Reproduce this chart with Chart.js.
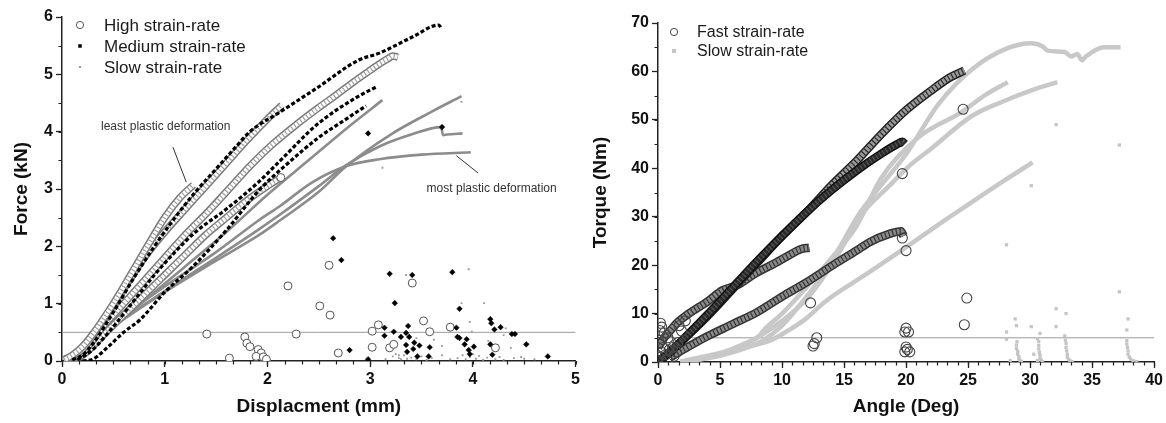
<!DOCTYPE html>
<html>
<head>
<meta charset="utf-8">
<script src="https://cdn.jsdelivr.net/npm/chart.js@4.4.1/dist/chart.umd.min.js"></script>
<style>
  html, body { margin: 0; padding: 0; background: #fff; }
  .wrap { display: flex; width: 1166px; height: 423px; }
  .panel { position: relative; width: 583px; height: 423px; }
</style>
</head>
<body>
<div class="wrap">
  <div class="panel"><canvas id="left"></canvas></div>
  <div class="panel"><canvas id="right"></canvas></div>
</div>
<script>
// ---- left panel: force vs displacement ----
const forceTicksX = [0, 1, 2, 3, 4, 5];
const forceTicksY = [0, 1, 2, 3, 4, 5, 6];
const forceThreshold = [[0, 0.5], [5, 0.5]];

const high1 = [[0.02,0.02],[0.1,0.1],[0.2,0.25],[0.3,0.47],[0.5,1.0],[0.7,1.6],[0.83,2.0],[1.0,2.5],[1.15,2.85],[1.28,3.07]];
const high2 = [[0.02,0.02],[0.1,0.08],[0.2,0.2],[0.4,0.7],[0.6,1.25],[0.8,1.8],[1.0,2.25],[1.2,2.65],[1.4,3.05],[1.6,3.45],[1.8,3.85],[2.0,4.22],[2.14,4.46]];
const high3 = [[0.02,0.02],[0.2,0.15],[0.4,0.6],[0.6,1.0],[0.8,1.4],[1.0,1.8],[1.2,2.2],[1.42,2.6],[1.6,2.95],[1.83,3.4],[2.05,3.78],[2.28,4.12],[2.5,4.42],[2.67,4.64],[2.85,4.88],[2.96,5.02],[3.08,5.17],[3.18,5.28],[3.22,5.32],[3.27,5.3]];
const high4 = [[0.02,0.02],[0.2,0.1],[0.4,0.45],[0.6,0.8],[0.8,1.15],[1.0,1.5],[1.2,1.85],[1.4,2.2],[1.6,2.5],[1.8,2.8],[2.0,3.05],[2.13,3.2]];

const medium1 = [[0.1,0.02],[0.2,0.1],[0.3,0.3],[0.5,0.85],[0.7,1.45],[0.9,2.0],[1.1,2.5],[1.3,2.95],[1.5,3.35],[1.7,3.75],[1.83,4.0],[2.12,4.34],[2.48,4.76],[2.89,5.25],[3.09,5.37],[3.41,5.65],[3.67,5.86],[3.69,5.81]];
const medium2 = [[0.15,0.02],[0.3,0.2],[0.5,0.6],[0.7,1.05],[0.9,1.5],[1.1,1.9],[1.3,2.25],[1.6,2.65],[1.9,3.1],[2.15,3.54],[2.48,4.12],[2.86,4.59],[3.06,4.78]];
const medium3 = [[0.2,0],[0.3,0.03],[0.45,0.25],[0.6,0.5],[0.76,0.72],[1.0,1.2],[1.27,1.64],[1.6,2.28],[1.92,2.98],[2.2,3.45],[2.5,3.9],[2.75,4.2],[2.96,4.45]];

const slow1 = [[0.05,0],[0.4,0.45],[0.8,1.05],[1.2,1.65],[1.6,2.25],[2.0,2.9],[2.4,3.5],[2.8,4.1],[3.12,4.55]];
const slow2 = [[0.05,0],[0.5,0.6],[1.0,1.2],[1.5,1.75],[1.92,2.2],[2.12,2.45],[2.5,2.95],[2.77,3.4],[3.2,3.95],[3.6,4.35],[3.89,4.62]];
const slow3 = [[0.05,0],[0.5,0.62],[1.0,1.22],[1.5,1.8],[1.92,2.3],[2.12,2.55],[2.5,3.05],[2.77,3.42],[3.1,3.75],[3.4,3.95],[3.69,4.08],[3.71,3.94],[3.75,3.95],[3.9,3.97]];
const slow4 = [[0.05,0],[0.5,0.65],[1.0,1.3],[1.5,1.9],[1.92,2.46],[2.12,2.7],[2.44,3.12],[2.77,3.4],[3.09,3.52],[3.5,3.6],[3.98,3.64]];

const highScatter = [[1.41,0.47],[1.63,0.05],[1.78,0.42],[1.8,0.31],[1.83,0.25],[1.91,0.2],[1.94,0.14],[1.89,0.08],[1.96,0.07],[1.99,0.03],[2.2,1.31],[2.28,0.47],[2.51,0.96],[2.6,1.67],[2.61,0.8],[2.69,0.14],[3.02,0.52],[3.08,0.63],[3.02,0.24],[3.19,0.23],[3.23,0.29],[3.41,1.36],[3.52,0.7],[3.58,0.51],[3.78,0.59],[4.22,0.23],[2.13,3.2]];
const mediumScatter = [[2.64,2.14],[2.72,1.76],[2.8,0.19],[2.98,0.03],[3.19,1.52],[3.24,1.01],[3.41,1.5],[3.14,0.58],[3.14,0.44],[3.23,0.51],[3.3,0.42],[3.35,0.49],[3.37,0.61],[3.38,0.42],[3.35,0.28],[3.36,0.16],[3.42,0.21],[3.43,0.32],[3.46,0.08],[3.48,0.27],[3.58,0.24],[3.57,0.08],[3.8,1.55],[3.87,0.91],[3.84,0.58],[3.85,0.42],[3.87,0.4],[3.94,0.38],[3.92,0.29],[3.96,0.19],[3.97,0.12],[4.01,0.25],[4.17,0.73],[4.18,0.66],[4.21,0.55],[4.27,0.59],[4.17,0.29],[4.19,0.11],[4.38,0.47],[4.41,0.47],[4.52,0.29],[4.73,0.08],[2.98,3.97],[3.7,4.08]];
const slowScatter = [[3.35,1.5],[3.96,1.6],[4.11,1.01],[3.89,1.01],[3.97,0.68],[3.99,0.51],[3.7,0.26],[3.62,0.37],[4.32,0.57],[4.37,0.23],[4.47,0.07],[4.54,0.3],[3.89,4.52],[3.12,3.37],[4.3,0.45],[4.15,0.35],[3.45,0.4],[3.28,0.1],[3.22,0.08],[3.25,0.12],[3.28,0.05],[3.3,0.03],[3.33,0.1],[3.36,0.04],[3.4,0.06],[3.45,0.03],[3.5,0.08],[3.55,0.02],[3.85,0.05],[3.9,0.1],[3.93,0.03],[3.97,0.07],[4.0,0.12],[4.03,0.04],[4.06,0.09],[4.1,0.02],[4.14,0.06],[4.18,0.1],[4.22,0.03],[4.26,0.07],[4.3,0.02],[4.4,0.05],[4.5,0.04],[4.6,0.03],[3.15,0.03],[3.6,0.05],[3.7,0.1],[3.78,0.03]];

// ---- right panel: torque vs angle ----
const torqueTicksX = [0, 5, 10, 15, 20, 25, 30, 35, 40];
const torqueTicksY = [0, 10, 20, 30, 40, 50, 60, 70];
const torqueThreshold = [[0, 5], [40, 5]];

const fast1 = [[0,0],[1,2.2],[2,4.6],[4,9.8],[6,15.3],[8,20.8],[10,26],[12,31],[14,35.5],[16,39.5],[18,43],[19.3,45],[19.7,45.5],[19.9,45]];
const fast2 = [[0,0],[1,2],[2,4.5],[4,9.5],[6,15],[8,20.5],[10,26],[12,31],[14,36.5],[16,41.5],[18,47],[20,52],[22,56],[23.5,58.7],[24.7,60.2]];
const fast3 = [[0,3],[0.5,5],[1,6.5],[1.5,8],[2.5,10],[4,12.5],[5.2,14.8],[6.5,16],[7.8,18.2],[9.5,20.5],[10.4,21.8],[11.5,23.3],[12.2,23.6]];
const fast4 = [[1,1],[2,2.5],[3.9,5.2],[6,7.8],[8,10.3],[10,13.5],[12,16.5],[14.4,20.5],[16,23],[17.1,24.8],[18.6,26.4],[19.6,27],[19.8,26]];

const slowT1 = [[1.8,0],[3,0.4],[5,1.3],[7,2.8],[8.5,4.5],[10,7.5],[11.5,12],[13,17],[14.5,23],[16.2,30.5],[18,36.5],[20,42.9],[22.6,53.2],[25.3,60.4],[28,64.6],[30.1,65.8],[31,65.2],[31.4,64.3],[32.8,64],[33.3,63.1],[33.8,63.6],[34.2,62.3],[34.5,63.1],[36,65],[37.3,65]];
const slowT2 = [[1.8,0],[3,0.5],[5,1.8],[7,3.8],[8.2,5.5],[8.5,6.5],[10,10],[12,15.5],[14,21.5],[16,28],[18,38],[21,46.4],[24.4,51.5],[26.5,55.3],[28.2,57.8]];
const slowT3 = [[1.8,0],[4,0.8],[6,2.5],[8,5],[10,8.5],[12,13],[14,20],[16.4,30.4],[18.5,36],[20.4,40.8],[22,44],[25.3,50.8],[28,54],[30,56],[32.2,57.8]];
const slowT4 = [[1.8,0],[2.4,0.4],[5.1,1.9],[7,3],[9.1,4.5],[10.5,6.5],[11.8,8.7],[13.5,12.5],[15.8,16.5],[17,18.5],[19.6,23],[23.2,29.4],[26,34.2],[28,37.6],[30.2,41.2]];

const fastScatter = [[12.3,12.2],[12.8,5],[12.5,3.3],[12.6,3.8],[19.7,25.6],[20,23],[19.7,38.9],[20,7],[19.9,6.2],[20.2,6.2],[20,3.1],[19.9,2.1],[20.3,2.1],[20.1,2.6],[24.9,13.2],[24.7,7.7],[24.6,52.2],[0.2,8],[0.3,7.2],[0.15,6.5],[0.5,6],[0.1,4],[0.4,3],[0.8,5],[1.0,4.2],[1.2,3],[1.5,2],[1.7,7.5],[1.9,6.4],[0.6,1.5],[0.3,2],[0.9,2.5],[1.3,1.2],[0.05,1],[0.7,0.5],[2.2,8.5],[1.6,4]];
const slowTScatter = [[28.1,24.2],[28.8,8.9],[28.9,7.5],[28.1,6.2],[28.1,4.7],[30.1,7.3],[30.8,5.9],[30.3,1.6],[32.1,11],[32.9,10],[32.1,7.3],[32.8,5.4],[37.2,14.5],[37.9,8.9],[37.8,6.6],[32.1,49],[37.2,44.8],[30.1,36.4],[28.9,3.5],[28.9,2.8],[29.0,2.2],[29.0,1.6],[29.1,1.1],[29.1,0.6],[29.2,0.3],[29.3,0.1],[28.4,0.3],[28.95,4.2],[30.6,4.8],[30.7,4.2],[30.7,3.4],[30.7,2.7],[30.75,2],[30.8,1.4],[30.8,0.8],[30.9,0.4],[31,0.1],[30.6,0.3],[32.85,4.5],[32.9,3.8],[32.9,3],[32.95,2.3],[33,1.6],[33,1],[33.1,0.6],[33.2,0.3],[33.4,0.1],[37.8,4.4],[37.8,3.7],[37.85,3.0],[37.9,2.3],[37.9,1.6],[38,1],[38.1,0.6],[38.3,0.3],[38.6,0.1]];

const FONT = "'Liberation Sans', Arial, sans-serif";
Chart.defaults.font.family = FONT;

const pts = arr => arr.map(([x, y]) => ({x, y}));

const curve = (data, color, width, dash) => ({
  data: pts(data), showLine: true, borderColor: color, borderWidth: width,
  borderDash: dash || [], pointRadius: 0, cubicInterpolationMode: 'monotone',
  fill: false, borderCapStyle: 'butt', borderJoinStyle: 'round'
});

// chain of overlapping open circles -> outline, filling and cross-hatch
const band = (data, edge, inner, hatch, w) => [
  curve(data, edge, w),
  curve(data, inner, w - 3),
  curve(data, hatch, w - 3, [1.2, 2.6])
];

const marks = (data, style, r, bg, border, bw) => ({
  data: pts(data), showLine: false, pointStyle: style, pointRadius: r,
  pointBackgroundColor: bg, pointBorderColor: border, pointBorderWidth: bw
});

// first item is painted first (bottom)
const layered = list => list.map((d, i) => Object.assign(d, {order: list.length - i}));

const minorTicks = {
  id: 'minorTicks',
  afterDraw(chart, args, opts) {
    const {ctx, chartArea, scales: {x, y}} = chart;
    ctx.save();
    ctx.strokeStyle = '#222';
    ctx.lineWidth = 1.2;
    ctx.beginPath();
    for (let v = x.min; v <= x.max + 1e-9; v += opts.xStep) {
      const px = Math.round(x.getPixelForValue(v)) + 0.5;
      ctx.moveTo(px, chartArea.bottom);
      ctx.lineTo(px, chartArea.bottom + 3.5);
    }
    for (let v = y.min; v <= y.max + 1e-9; v += opts.yStep) {
      const py = Math.round(y.getPixelForValue(v)) + 0.5;
      ctx.moveTo(chartArea.left, py);
      ctx.lineTo(chartArea.left - 3.5, py);
    }
    ctx.stroke();
    ctx.restore();
  }
};

const notes = {
  id: 'notes',
  afterDatasetsDraw(chart, args, opts) {
    const {ctx, scales: {x, y}} = chart;
    ctx.save();
    ctx.font = '12px ' + FONT;
    ctx.fillStyle = '#333';
    ctx.strokeStyle = '#333';
    ctx.lineWidth = 1;
    ctx.textBaseline = 'middle';
    (opts.items || []).forEach(n => {
      ctx.fillText(n.text, x.getPixelForValue(n.x), y.getPixelForValue(n.y));
      ctx.beginPath();
      ctx.moveTo(x.getPixelForValue(n.from[0]), y.getPixelForValue(n.from[1]));
      ctx.lineTo(x.getPixelForValue(n.to[0]), y.getPixelForValue(n.to[1]));
      ctx.stroke();
    });
    ctx.restore();
  }
};

const keyBox = {
  id: 'keyBox',
  afterDraw(chart, args, opts) {
    const {ctx} = chart;
    ctx.save();
    ctx.font = opts.size + 'px ' + FONT;
    ctx.textBaseline = 'middle';
    opts.items.forEach((it, i) => {
      const y = opts.y + i * opts.gap;
      const x = opts.x;
      ctx.beginPath();
      if (it.symbol === 'circle') {
        ctx.arc(x, y, 3.6, 0, Math.PI * 2);
        ctx.fillStyle = '#fff';
        ctx.fill();
        ctx.strokeStyle = it.color;
        ctx.lineWidth = 1;
        ctx.stroke();
      } else {
        ctx.fillStyle = it.color;
        ctx.fillRect(x - it.size / 2, y - it.size / 2, it.size, it.size);
      }
      ctx.fillStyle = '#1a1a1a';
      ctx.fillText(it.label, opts.textX, y + 1);
    });
    ctx.restore();
  }
};

function axis(ticks, title, fit, titlePad) {
  return {
    type: 'linear',
    min: ticks[0],
    max: ticks[ticks.length - 1],
    afterBuildTicks: s => { s.ticks = ticks.map(v => ({value: v})); },
    afterFit: fit,
    ticks: {color: '#111', font: {size: 16, weight: 'bold'}, padding: 3},
    grid: {drawOnChartArea: false, drawTicks: true, tickLength: 6, tickColor: '#222', tickWidth: 1.3},
    border: {display: true, color: '#222', width: 1.5},
    title: {display: true, text: title, color: '#111', font: {size: 19, weight: 'bold'}, padding: titlePad}
  };
}

function baseOptions(pad, xAxis, yAxis, plugins) {
  return {
    responsive: true,
    maintainAspectRatio: false,
    animation: false,
    devicePixelRatio: 1,
    layout: {padding: pad},
    events: [],
    elements: {point: {hitRadius: 0}},
    scales: {x: xAxis, y: yAxis},
    plugins: Object.assign({legend: {display: false}, tooltip: {enabled: false}}, plugins)
  };
}

// left chart
const leftSets = layered([
  curve(forceThreshold, '#9a9a9a', 1),
  curve(slow1, '#8c8c8c', 2.6),
  curve(slow2, '#8c8c8c', 2.6),
  curve(slow3, '#8c8c8c', 2.6),
  curve(slow4, '#8c8c8c', 2.6),
  ...band(high4, '#7a7a7a', '#ffffff', '#a0a0a0', 7.5),
  ...band(high3, '#7a7a7a', '#ffffff', '#a0a0a0', 7.5),
  ...band(high2, '#7a7a7a', '#ffffff', '#a0a0a0', 7.5),
  ...band(high1, '#7a7a7a', '#ffffff', '#a0a0a0', 7.5),
  curve(medium3, '#000', 3.2, [4, 2.2]),
  curve(medium2, '#000', 3.2, [4, 2.2]),
  curve(medium1, '#000', 3.2, [4, 2.2]),
  marks(slowScatter, 'rect', 1.3, '#9a9a9a', '#9a9a9a', 0),
  marks(highScatter, 'circle', 4, '#fff', '#555', 1),
  marks(mediumScatter, 'rectRot', 2.8, '#000', '#000', 0.5)
]);

new Chart(document.getElementById('left'), {
  type: 'scatter',
  data: {datasets: leftSets},
  options: baseOptions(
    {top: 17, right: 6, left: 0, bottom: 0},
    axis(forceTicksX, 'Displacment (mm)', s => { s.height = 62; }, {top: 0, bottom: 5}),
    axis(forceTicksY, 'Force (kN)', s => { s.width = 62; }, {top: 10, bottom: 0}),
    {
      minorTicks: {xStep: 1 / 6, yStep: 0.5},
      notes: {items: [
        {text: 'least plastic deformation', x: 0.38, y: 4.08, from: [1.08, 3.73], to: [1.21, 3.12]},
        {text: 'most plastic deformation', x: 3.55, y: 3.0, from: [3.84, 3.58], to: [4.05, 3.28]}
      ]},
      keyBox: {x: 80, textX: 104, y: 25, gap: 21, size: 17, items: [
        {symbol: 'circle', color: '#555', label: 'High strain-rate'},
        {symbol: 'square', color: '#000', size: 3.5, label: 'Medium strain-rate'},
        {symbol: 'square', color: '#9a9a9a', size: 2, label: 'Slow strain-rate'}
      ]}
    }
  ),
  plugins: [minorTicks, notes, keyBox]
});

// right chart
const rightSets = layered([
  curve(torqueThreshold, '#9a9a9a', 1),
  curve(slowT4, '#c8c8c8', 4.5),
  curve(slowT3, '#c8c8c8', 4.5),
  curve(slowT2, '#c8c8c8', 4.5),
  curve(slowT1, '#c8c8c8', 4.5),
  ...band(fast4, '#333', '#8a8a8a', '#333', 8.5),
  ...band(fast3, '#333', '#8a8a8a', '#333', 8.5),
  ...band(fast2, '#222', '#9a9a9a', '#2a2a2a', 8.5),
  ...band(fast1, '#111', '#2b2b2b', '#555', 8.5),
  marks(slowTScatter, 'rect', 2.3, '#c4c4c4', '#c4c4c4', 0),
  marks(fastScatter, 'circle', 5, 'rgba(255,255,255,0)', '#444', 1.1)
]);

new Chart(document.getElementById('right'), {
  type: 'scatter',
  data: {datasets: rightSets},
  options: baseOptions(
    {top: 23, right: 9, left: 0, bottom: 0},
    axis(torqueTicksX, 'Angle (Deg)', s => { s.height = 61; }, {top: 0, bottom: 5}),
    axis(torqueTicksY, 'Torque (Nm)', s => { s.width = 75; }, {top: 6, bottom: 0}),
    {
      minorTicks: {xStep: 5 / 6, yStep: 5},
      keyBox: {x: 91, textX: 114, y: 32, gap: 19, size: 16, items: [
        {symbol: 'circle', color: '#444', label: 'Fast strain-rate'},
        {symbol: 'square', color: '#c4c4c4', size: 4, label: 'Slow strain-rate'}
      ]}
    }
  ),
  plugins: [minorTicks, keyBox]
});
</script>
</body>
</html>
